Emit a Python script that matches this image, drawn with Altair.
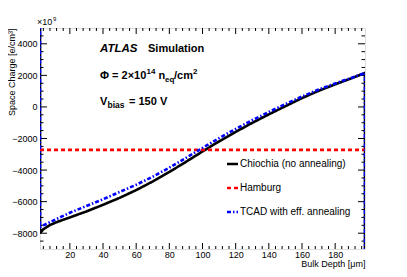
import altair as alt
import pandas as pd

# ---------------- data ----------------
depth = [2, 4, 8, 12, 20, 30, 40, 50, 60, 70, 80, 90, 100, 110, 120, 130, 140, 150, 160, 170, 180, 190, 198]
chiochia = [-8000, -7750, -7480, -7300, -7000, -6620, -6200, -5760, -5270, -4720, -4120, -3480, -2820,
            -2180, -1580, -1010, -470, 50, 560, 1020, 1430, 1820, 2150]
tcad = [-7620, -7500, -7300, -7100, -6700, -6280, -5850, -5390, -4930, -4420, -3850, -3230, -2600,
        -1980, -1390, -840, -320, 180, 660, 1100, 1490, 1850, 2150]
hamburg_x = [2, 198]
hamburg = [-2720, -2720]
edge_top = 6000      # curves run off-scale at the borders
edge_bottom = -10000

x_domain = [2, 198]
y_domain = [-9000, 5000]
x_major = [20, 40, 60, 80, 100, 120, 140, 160, 180]
x_minor = [v for v in range(4, 198, 4) if v % 20 != 0]
y_major = [-8000, -6000, -4000, -2000, 0, 2000, 4000]
y_minor = [v for v in range(-8500, 5000, 500) if v % 2000 != 0]

series_names = ["Chiochia (no annealing)", "Hamburg", "TCAD with eff. annealing"]
series_colors = ["#000000", "#ff0000", "#0000ff"]
series_dash = [[1, 0], [4, 3], [4, 2, 1.5, 2]]

# ---------------- frames ----------------
rows = []
def add(name, xs, ys):
    for i, (a, b) in enumerate(zip(xs, ys)):
        rows.append({"series": name, "x": a, "y": b, "idx": i})

add(series_names[0], [depth[0]] + depth + [depth[-1]], [edge_top] + chiochia + [edge_bottom])
add(series_names[1], hamburg_x, hamburg)
add(series_names[2], [depth[0]] + depth + [depth[-1]], [edge_top] + tcad + [edge_bottom])
df = pd.DataFrame(rows)

W, H = 325, 221
FONT = "Liberation Sans"

xs = alt.Scale(domain=x_domain, nice=False, zero=False)
ys = alt.Scale(domain=y_domain, nice=False, zero=False)
cs = alt.Scale(domain=series_names, range=series_colors)
ds = alt.Scale(domain=series_names, range=series_dash)

x_axis = alt.Axis(values=x_major, format="d", ticks=False, domain=False, grid=False,
                  labelOverlap=False, labelFont=FONT, labelFontSize=9, labelColor="#000",
                  labelPadding=1,
                  title="Bulk Depth [μm]", titleFont=FONT, titleFontSize=9,
                  titleFontWeight="normal", titleColor="#000", titleAnchor="end",
                  titleAlign="right", titleX=W, titleY=17, titleBaseline="alphabetic")
y_axis = alt.Axis(values=y_major, format="d", ticks=False, domain=False, grid=False,
                  labelOverlap=False, labelFont=FONT, labelFontSize=9, labelColor="#000",
                  labelPadding=3,
                  title="Space Charge [e/cm³]", titleFont=FONT, titleFontSize=9,
                  titleFontWeight="normal", titleColor="#000", titleAngle=270,
                  titleAlign="right", titleBaseline="alphabetic", titleX=-26, titleY=0)

base = alt.Chart(df).mark_line(clip=True, strokeWidth=2.6).encode(
    x=alt.X("x:Q", scale=xs, axis=x_axis),
    y=alt.Y("y:Q", scale=ys, axis=y_axis),
    order="idx:Q",
    color=alt.Color("series:N", scale=cs, legend=None),
    strokeDash=alt.StrokeDash("series:N", scale=ds, legend=None),
)
lines = [base.transform_filter(alt.datum.series == n) for n in series_names]

# ---------------- ticks (inward, all four sides) ----------------
def xticks(vals, size):
    d = pd.DataFrame({"v": vals})
    b = alt.Chart(d).mark_rule(color="#000", strokeWidth=1)
    return [b.encode(x=alt.X("v:Q", scale=xs, axis=x_axis), y=alt.value(H), y2=alt.value(H - size)),
            b.encode(x=alt.X("v:Q", scale=xs, axis=x_axis), y=alt.value(0), y2=alt.value(size))]

def yticks(vals, size):
    d = pd.DataFrame({"v": vals})
    b = alt.Chart(d).mark_rule(color="#000", strokeWidth=1)
    return [b.encode(y=alt.Y("v:Q", scale=ys, axis=y_axis), x=alt.value(0), x2=alt.value(size)),
            b.encode(y=alt.Y("v:Q", scale=ys, axis=y_axis), x=alt.value(W), x2=alt.value(W - size))]

ticks = xticks(x_major, 6) + xticks(x_minor, 3) + yticks(y_major, 7) + yticks(y_minor, 3.5)

# ---------------- legend ----------------
leg = []
for i, n in enumerate(series_names):
    yy = 136 + 24 * i
    d = pd.DataFrame({"series": [n]})
    leg.append(alt.Chart(d).mark_rule(strokeWidth=2.6).encode(
        x=alt.value(187), x2=alt.value(198), y=alt.value(yy),
        color=alt.Color("series:N", scale=cs, legend=None),
        strokeDash=alt.StrokeDash("series:N", scale=ds, legend=None)))
    leg.append(alt.Chart(d).mark_text(align="left", baseline="middle", font=FONT, fontSize=10,
                                      color="#000").encode(
        x=alt.value(200), y=alt.value(yy), text="series:N"))

# ---------------- annotations ----------------
def txt(s, x, y, size=11, weight="bold", style="normal"):
    return alt.Chart(pd.DataFrame({"t": [s]})).mark_text(
        align="left", baseline="alphabetic", font=FONT, fontSize=size, fontWeight=weight,
        fontStyle=style, color="#000").encode(x=alt.value(x), y=alt.value(y), text="t:N")

ann = [
    txt("ATLAS", 60, 24, 11.5, "bold", "italic"),
    txt("Simulation", 108, 24),
    txt("Φ = 2×10", 60, 51),
    txt("14", 106.5, 46, 8),
    txt("n", 118.5, 51),
    txt("eq", 125, 54, 8),
    txt("/cm", 134, 51),
    txt("2", 153, 46, 8),
    txt("V", 60, 77),
    txt("bias", 67.5, 80, 8.5),
    txt("= 150 V", 89, 77),
    txt("×10", -3, -3, 9, "normal"),
    txt("9", 13, -7, 6, "normal"),
]

chart = alt.layer(*ticks, *lines, *leg, *ann).properties(
    width=W, height=H,
    autosize=alt.AutoSizeParams(type="none"),
    padding={"left": 32, "top": 20, "right": 34, "bottom": 20},
).configure_view(stroke="#000", strokeWidth=1).configure(background="white")

chart.save("out.html", embed_options={"renderer": "svg", "actions": False})
